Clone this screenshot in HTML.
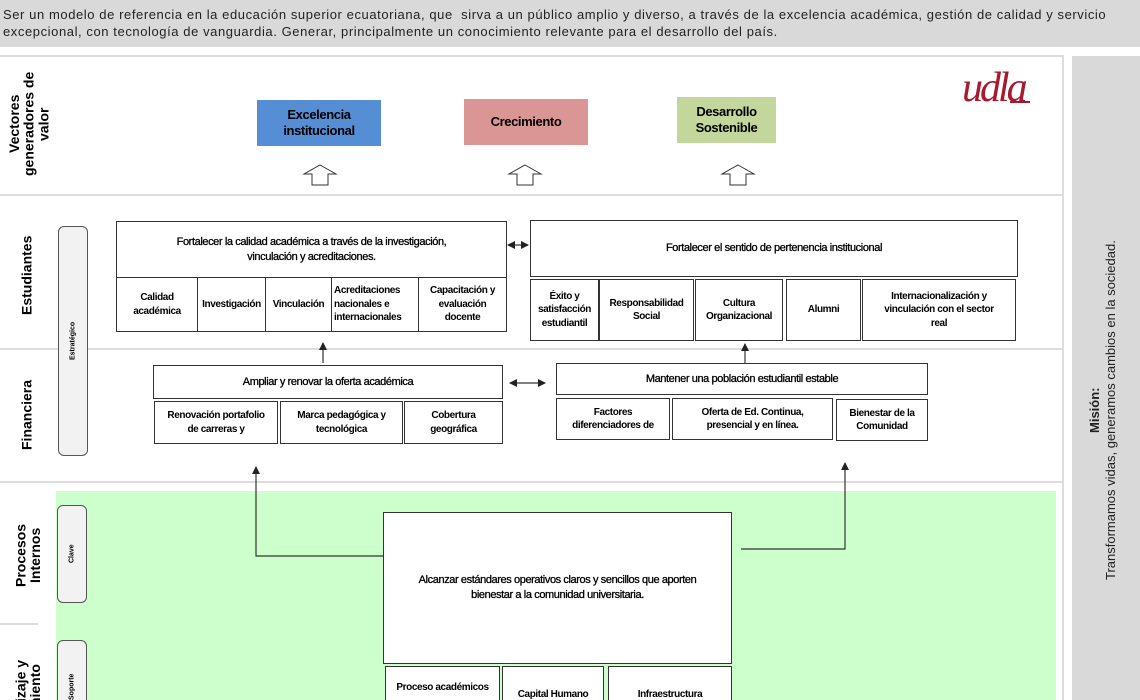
<!DOCTYPE html>
<html><head><meta charset="utf-8"><style>
*{margin:0;padding:0;box-sizing:border-box}
html,body{width:1140px;height:700px;overflow:hidden}
body{background:#fff;position:relative;font-family:"Liberation Sans",sans-serif}
#w{position:absolute;left:0;top:0;width:1140px;height:700px;overflow:hidden}
.a{position:absolute}
.b{position:absolute;border:1px solid #333;background:#fff;display:flex;align-items:center;justify-content:center;text-align:center;font-weight:bold;font-size:10px;letter-spacing:-0.4px;line-height:1.35;color:#000}
.v{position:absolute;writing-mode:vertical-rl;transform:rotate(180deg);display:flex;align-items:center;justify-content:center;text-align:center}
.lab{font-weight:bold;font-size:14px;line-height:1.05;color:#000}
.pill{position:absolute;border:1px solid #555;border-radius:6px;background:#f2f2f2}
.hl{position:absolute;height:2px;background:#ddd}
.clip{position:absolute;overflow:hidden}
</style></head><body><div id="w">
<div class="a" style="left:0;top:0;width:1140px;height:47px;background:#d9d9d9"></div>
<div class="a" style="left:3px;top:6px;font-size:13px;line-height:17px;color:#222;white-space:nowrap;letter-spacing:0.58px">Ser un modelo de referencia en la educación superior ecuatoriana, que&nbsp; sirva a un público amplio y diverso, a través de la excelencia académica, gestión de calidad y servicio<br>excepcional, con tecnología de vanguardia. Generar, principalmente un conocimiento relevante para el desarrollo del país.</div>
<div class="a" style="left:0;top:55px;width:1064px;height:645px;border-top:2px solid #ddd;border-right:2px solid #ddd"></div>
<div class="a" style="left:1072px;top:56px;width:68px;height:644px;background:#d9d9d9"></div>
<div class="v" style="left:1086px;top:150px;width:34px;height:520px;font-size:13px;color:#222;line-height:16px"><div><b>Misión:</b><br>Transformamos vidas, generamos cambios en la sociedad.</div></div>
<div class="a" style="left:962px;top:64px;font-family:'Liberation Serif',serif;font-style:italic;font-size:42px;color:#a6192e;letter-spacing:-3px">udla</div>
<div class="a" style="left:1010px;top:101px;width:20px;height:2px;background:#a6192e"></div>

<div class="hl" style="left:0;top:194px;width:1063px"></div>
<div class="hl" style="left:0;top:348px;width:1063px"></div>
<div class="hl" style="left:0;top:481px;width:1063px"></div>

<div class="v lab" style="left:8px;top:62px;width:42px;height:124px">Vectores generadores de valor</div>
<div class="v lab" style="left:16px;top:225px;width:22px;height:100px">Estudiantes</div>
<div class="v lab" style="left:16px;top:370px;width:22px;height:90px">Financiera</div>
<div class="v lab" style="left:8px;top:515px;width:40px;height:80px">Procesos Internos</div>
<div class="clip" style="left:0;top:630px;width:56px;height:70px">
<div class="v lab" style="left:8px;top:10px;width:40px;height:130px;justify-content:flex-end">Aprendizaje y Crecimiento</div>
</div>

<div class="pill" style="left:58px;top:226px;width:30px;height:230px"></div>
<div class="v" style="left:58px;top:226px;width:30px;height:230px;font-size:7px;font-weight:bold">Estratégico</div>

<div class="b" style="left:257px;top:100px;width:124px;height:46px;background:#558ed5;border:none;font-size:13px;line-height:1.2">Excelencia institucional</div>
<div class="b" style="left:464px;top:99px;width:124px;height:46px;background:#d99694;border:none;font-size:13px">Crecimiento</div>
<div class="b" style="left:677px;top:97px;width:99px;height:46px;background:#c3d69b;border:none;font-size:13px;line-height:1.2">Desarrollo Sostenible</div>
<svg class="a" style="left:0;top:0" width="1140" height="700">
<g fill="#fff" stroke="#333" stroke-width="1">
<polygon points="320,165 336,174 328,174 328,185 312,185 312,174 304,174"/>
<polygon points="525,165 541,174 533,174 533,185 517,185 517,174 509,174"/>
<polygon points="738,165 754,174 746,174 746,185 730,185 730,174 722,174"/>
</g>
</svg>

<div class="b" style="left:116px;top:221px;width:391px;height:57px;font-size:11px;font-weight:normal;-webkit-text-stroke:0.3px #000">Fortalecer la calidad académica a través de la investigación,<br>vinculación y acreditaciones.</div>
<div class="b" style="left:116px;top:277px;width:82px;height:55px">Calidad<br>académica</div>
<div class="b" style="left:197px;top:277px;width:69px;height:55px">Investigación</div>
<div class="b" style="left:265px;top:277px;width:67px;height:55px">Vinculación</div>
<div class="b" style="left:331px;top:277px;width:88px;height:55px;justify-content:flex-start;text-align:left;padding-left:2px">Acreditaciones<br>nacionales e<br>internacionales</div>
<div class="b" style="left:418px;top:277px;width:89px;height:55px">Capacitación y<br>evaluación<br>docente</div>

<div class="b" style="left:530px;top:220px;width:488px;height:57px;font-size:11px;font-weight:normal;-webkit-text-stroke:0.3px #000">Fortalecer el sentido de pertenencia institucional</div>
<div class="b" style="left:530px;top:279px;width:69px;height:62px">Éxito y<br>satisfacción<br>estudiantil</div>
<div class="b" style="left:599px;top:279px;width:95px;height:62px">Responsabilidad<br>Social</div>
<div class="b" style="left:695px;top:279px;width:88px;height:62px">Cultura<br>Organizacional</div>
<div class="b" style="left:786px;top:279px;width:75px;height:62px">Alumni</div>
<div class="b" style="left:862px;top:279px;width:154px;height:62px">Internacionalización y<br>vinculación con el sector<br>real</div>

<div class="b" style="left:153px;top:365px;width:350px;height:34px;font-size:11px;font-weight:normal;-webkit-text-stroke:0.3px #000">Ampliar y renovar la oferta académica</div>
<div class="b" style="left:154px;top:401px;width:124px;height:43px">Renovación portafolio<br>de carreras y</div>
<div class="b" style="left:280px;top:401px;width:123px;height:43px">Marca pedagógica y<br>tecnológica</div>
<div class="b" style="left:404px;top:401px;width:99px;height:43px">Cobertura<br>geográfica</div>

<div class="b" style="left:556px;top:363px;width:372px;height:32px;font-size:11px;font-weight:normal;-webkit-text-stroke:0.3px #000">Mantener una población estudiantil estable</div>
<div class="b" style="left:556px;top:398px;width:114px;height:42px">Factores<br>diferenciadores de</div>
<div class="b" style="left:672px;top:398px;width:161px;height:42px">Oferta de Ed. Continua,<br>presencial y en línea.</div>
<div class="b" style="left:836px;top:399px;width:92px;height:42px">Bienestar de la<br>Comunidad</div>

<div class="a" style="left:56px;top:491px;width:1000px;height:209px;background:#ccffcc"></div>
<div class="hl" style="left:0;top:623px;width:38px"></div>
<div class="pill" style="left:57px;top:505px;width:30px;height:98px"></div>
<div class="v" style="left:57px;top:505px;width:30px;height:98px;font-size:7px;font-weight:bold">Clave</div>
<div class="pill" style="left:57px;top:640px;width:30px;height:60px;border-bottom:none;border-radius:6px 6px 0 0"></div>
<div class="v" style="left:57px;top:660px;width:30px;height:40px;font-size:7px;font-weight:bold;justify-content:flex-start">Soporte</div>

<div class="b" style="left:383px;top:512px;width:349px;height:152px;font-size:11px;font-weight:normal;-webkit-text-stroke:0.3px #000">Alcanzar estándares operativos claros y sencillos que aporten<br>bienestar a la comunidad universitaria.</div>
<div class="b" style="left:385px;top:666px;width:115px;height:34px;border-bottom:none;overflow:hidden;align-items:flex-start;padding-top:14px">Proceso académicos</div>
<div class="b" style="left:502px;top:666px;width:102px;height:34px;border-bottom:none;overflow:hidden;align-items:flex-start;padding-top:21px">Capital Humano</div>
<div class="b" style="left:608px;top:666px;width:124px;height:34px;border-bottom:none;overflow:hidden;align-items:flex-start;padding-top:21px">Infraestructura</div>

<svg class="a" style="left:0;top:0" width="1140" height="700">
<defs><marker id="m" markerWidth="8" markerHeight="8" refX="7" refY="4" orient="auto" markerUnits="userSpaceOnUse"><path d="M0,0 L8,4 L0,8 z" fill="#222"/></marker></defs>
<g stroke="#333" stroke-width="1.2" fill="none">
<line x1="323" y1="363" x2="323" y2="343" marker-end="url(#m)"/>
<line x1="745" y1="363" x2="745" y2="344" marker-end="url(#m)"/>
<line x1="518" y1="245" x2="528" y2="245" marker-end="url(#m)"/>
<line x1="518" y1="245" x2="508" y2="245" marker-end="url(#m)"/>
<line x1="527" y1="383" x2="545" y2="383" marker-end="url(#m)"/>
<line x1="527" y1="383" x2="510" y2="383" marker-end="url(#m)"/>
<polyline points="383,556 256,556 256,467" marker-end="url(#m)"/>
<polyline points="741,549 845,549 845,463" marker-end="url(#m)"/>
</g>
</svg>
</div></body></html>
